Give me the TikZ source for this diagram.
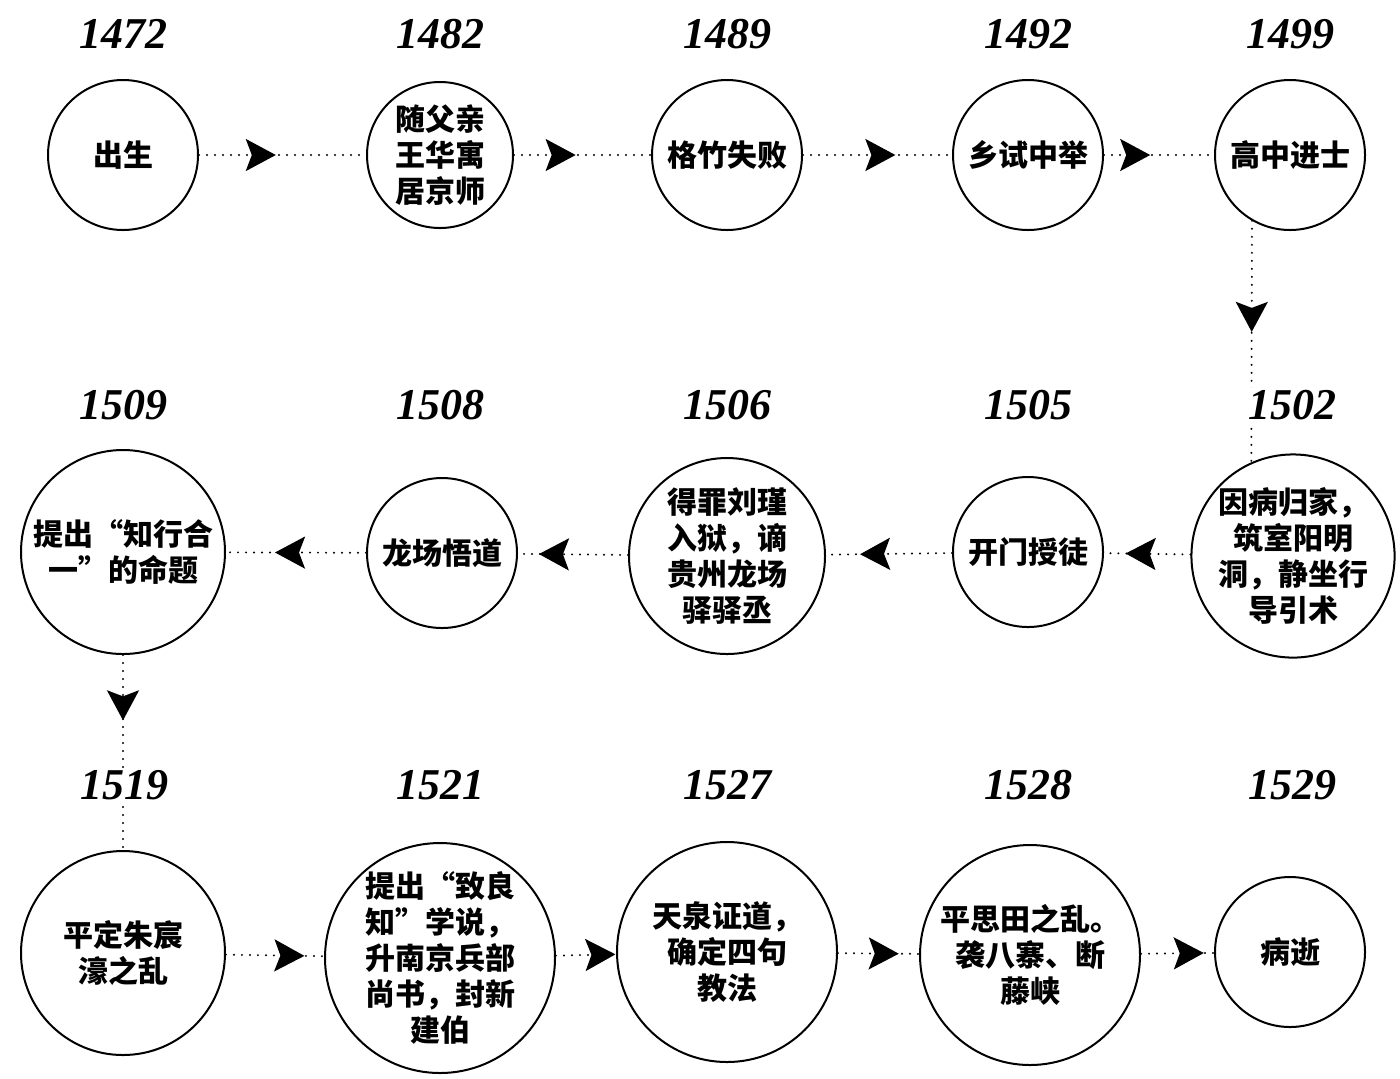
\documentclass[tikz,border=0pt]{standalone}
\usepackage{fontspec}
\setmainfont{Liberation Serif}
\newfontfamily\cjk{Noto Sans CJK SC}
\usepackage{tikz}
\usetikzlibrary{arrows.meta}
\usetikzlibrary{decorations.markings}

\tikzset{
  stage/.style={circle, draw, line width=1pt, inner sep=0pt, minimum size=#1,
    align=center, font=\cjk\bfseries\fontsize{15pt}{18pt}\selectfont},
  year/.style={fill=white, inner sep=1pt, font=\bfseries\itshape\fontsize{22pt}{22pt}\selectfont},
  flow/.style={line width=1.1pt, line cap=round, dash pattern=on 0pt off 4pt,
    postaction={decorate},
    decoration={markings, mark=at position #1 with {\arrow{Stealth[length=15pt,width=16pt,inset=3pt]}}}}
}

\begin{document}
\begin{tikzpicture}[x=0.5pt,y=-0.5pt]
        \useasboundingbox (0,0) rectangle (1400,1078);
        %first row
        \node[stage=75pt] (chusheng) at (123,155) {出生};
        \node[stage=73pt] (suifu) at (440,155) {随父亲\\王华寓\\居京师};
        \node[stage=75pt] (gezhu) at (727,155) {格竹失败};
        \node[stage=75pt] (xiangshi) at (1028,155) {乡试中举};
        \node[stage=75pt] (gaozhong) at (1290,155) {高中进士};
        %second row
        \node[stage=100pt] (yinbing) at (1293,556) {因病归家，\\筑室阳明\\洞，静坐行\\导引术};
        \node[stage=75pt] (kaimen) at (1028,552) {开门授徒};
        \node[stage=98pt] (deizui) at (727,556) {得罪刘瑾\\入狱，谪\\贵州龙场\\驿驿丞};
        \node[stage=75pt] (longchang) at (442,553) {龙场悟道};
        \node[stage=102pt] (zhixing) at (123,552) {提出“知行合\\一”的命题};
        %third row
        \node[stage=102pt] (pingding) at (123,953) {平定朱宸\\濠之乱};
        \node[stage=115pt] (zhiliang) at (440,958) {提出“致良\\知”学说，\\升南京兵部\\尚书，封新\\建伯};
        \node[stage=110pt] (tianquan) at (727,952) {天泉证道，\\确定四句\\教法};
        \node[stage=110pt] (pingsi) at (1030,955) {平思田之乱。\\袭八寨、断\\藤峡};
        \node[stage=75pt] (bingshi) at (1290,952) {病逝};
        %connectors
        \draw[flow=0.46] (chusheng) -- (suifu);
        \draw[flow=0.45] (suifu) -- (gezhu);
        \draw[flow=0.62] (gezhu) -- (xiangshi);
        \draw[flow=0.42] (xiangshi) -- (gaozhong);
        \draw[flow=0.46] (gaozhong.-120) -- (yinbing.114);
        \draw[flow=0.75] (yinbing) -- (kaimen);
        \draw[flow=0.73] (kaimen) -- (deizui);
        \draw[flow=0.81] (deizui) -- (longchang);
        \draw[flow=0.65] (longchang) -- (zhixing);
        \draw[flow=0.335] (zhixing) -- (pingding);
        \draw[flow=0.8] (pingding) -- (zhiliang);
        \draw[flow=0.99] (zhiliang) -- (tianquan);
        \draw[flow=0.75] (tianquan) -- (pingsi);
        \draw[flow=0.86] (pingsi) -- (bingshi);
        %years
        \node[year] (y1472) at (123,34) {1472};
        \node[year] (y1482) at (440,34) {1482};
        \node[year] (y1489) at (727,34) {1489};
        \node[year] (y1492) at (1028,34) {1492};
        \node[year] (y1499) at (1290,34) {1499};
        \node[year] (y1509) at (123,405) {1509};
        \node[year] (y1508) at (440,405) {1508};
        \node[year] (y1506) at (727,405) {1506};
        \node[year] (y1505) at (1028,405) {1505};
        \node[year] (y1502) at (1292,405) {1502};
        \node[year] (y1519) at (124,785) {1519};
        \node[year] (y1521) at (440,785) {1521};
        \node[year] (y1527) at (727,785) {1527};
        \node[year] (y1528) at (1028,785) {1528};
        \node[year] (y1529) at (1292,785) {1529};
\end{tikzpicture}
\end{document}
